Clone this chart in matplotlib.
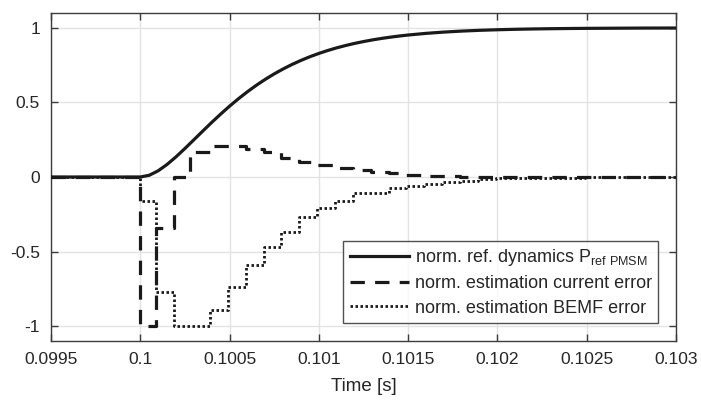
import matplotlib
matplotlib.use("Agg")
import matplotlib.pyplot as plt

plt.rcParams['font.family'] = ['Liberation Sans', 'DejaVu Sans']

# Normalised reference dynamics P_ref PMSM (time in s)
ref_t = [0.0995, 0.1, 0.10005, 0.1001, 0.10015, 0.1002, 0.10025, 0.1003, 0.10035,
         0.1004, 0.10045, 0.1005, 0.10055, 0.1006, 0.10065, 0.1007, 0.10075,
         0.1008, 0.10085, 0.1009, 0.10095, 0.101, 0.10105, 0.1011, 0.10115,
         0.1012, 0.10125, 0.1013, 0.10135, 0.1014, 0.10145, 0.1015, 0.1016,
         0.1017, 0.1018, 0.1019, 0.102, 0.1021, 0.1022, 0.1023, 0.1024, 0.1025,
         0.1028, 0.103]
ref_v = [0.0, 0.0, 0.0115, 0.0415, 0.0842, 0.1352, 0.1912, 0.2495, 0.3082,
         0.3661, 0.4219, 0.4751, 0.5252, 0.5719, 0.6153, 0.6551, 0.6916,
         0.7248, 0.7550, 0.7822, 0.8068, 0.8288, 0.8486, 0.8663, 0.8820,
         0.8960, 0.9084, 0.9195, 0.9293, 0.9379, 0.9455, 0.9523, 0.9634,
         0.9720, 0.9787, 0.9838, 0.9877, 0.9907, 0.9930, 0.9947, 0.9960, 0.9970,
         0.9988, 0.9993]

# Normalised estimation current error (sampled, held between samples)
cur_t = [0.0995, 0.1, 0.10009, 0.10019, 0.10028, 0.10039, 0.10049, 0.10059,
         0.10069, 0.10079, 0.10089, 0.10099, 0.10109, 0.10119, 0.10129, 0.10139,
         0.10149, 0.10159, 0.10169, 0.10179, 0.10189, 0.103]
cur_v = [0.0, -1.0, -0.34, 0.0, 0.17, 0.21, 0.21, 0.185, 0.165, 0.13, 0.10,
         0.08, 0.06, 0.045, 0.033, 0.025, 0.015, 0.01, 0.006, 0.003, 0.0, 0.0]

# Normalised estimation BEMF error (sampled, held between samples)
bemf_t = [0.0995, 0.1, 0.10009, 0.10019, 0.10039, 0.10049, 0.10059, 0.10069,
          0.10079, 0.10089, 0.10099, 0.10109, 0.10119, 0.10139, 0.10149,
          0.10159, 0.10169, 0.10179, 0.10189, 0.10199, 0.10209, 0.10229,
          0.10249, 0.10269, 0.1029, 0.103]
bemf_v = [0.0, -0.16, -0.77, -1.0, -0.89, -0.74, -0.59, -0.47, -0.37, -0.27,
          -0.21, -0.16, -0.11, -0.075, -0.06, -0.045, -0.032, -0.025, -0.016,
          -0.01, -0.007, -0.004, -0.003, -0.002, 0.0, 0.0]

x_ticks = [0.0995, 0.1, 0.1005, 0.101, 0.1015, 0.102, 0.1025, 0.103]
x_tick_labels = ['0.0995', '0.1', '0.1005', '0.101', '0.1015', '0.102', '0.1025', '0.103']
y_ticks = [-1, -0.5, 0, 0.5, 1]
y_tick_labels = ['-1', '-0.5', '0', '0.5', '1']

legend_labels = ['norm. ref. dynamics P$_{\\mathregular{ref\\ PMSM}}$',
                 'norm. estimation current error',
                 'norm. estimation BEMF error']

fig = plt.figure(figsize=(7.01, 4.01), dpi=100)
ax = fig.add_axes([51 / 701, 1 - 341 / 401, (676 - 51) / 701, (341 - 13) / 401])

line_col = '#1a1a1a'
ax.plot(ref_t, ref_v, color=line_col, lw=2.3, label=legend_labels[0], zorder=4)
ax.step(cur_t, cur_v, where='post', color=line_col, lw=2.3,
        linestyle=(0, (4.5, 3.2)), label=legend_labels[1], zorder=3)
ax.step(bemf_t, bemf_v, where='post', color=line_col, lw=2.0,
        linestyle=(0, (0.9, 0.9)), label=legend_labels[2], zorder=3)

ax.set_xlim(0.0995, 0.103)
ax.set_ylim(-1.1, 1.1)
ax.set_xticks(x_ticks)
ax.set_xticklabels(x_tick_labels)
ax.set_yticks(y_ticks)
ax.set_yticklabels(y_tick_labels)

ax.grid(True, color='#e3e3e3', lw=1.0)
ax.set_axisbelow(True)
for s in ax.spines.values():
    s.set_color('#3c3c3c')
    s.set_linewidth(1.0)
ax.tick_params(direction='in', length=5, width=1.0, color='#3c3c3c',
               top=True, right=True, labelsize=12.5, labelcolor='#262626', pad=8)
ax.set_xlabel('Time [s]', fontsize=13.5, color='#262626', labelpad=8)

leg = ax.legend(loc='lower right', fontsize=13, handlelength=3.3,
                frameon=True, fancybox=False, edgecolor='#262626',
                borderaxespad=1.0, labelspacing=0.4, handletextpad=0.3,
                borderpad=0.35)
leg.get_frame().set_linewidth(1.0)
for t in leg.get_texts():
    t.set_color('#262626')

fig.savefig('out.png', dpi=100)
